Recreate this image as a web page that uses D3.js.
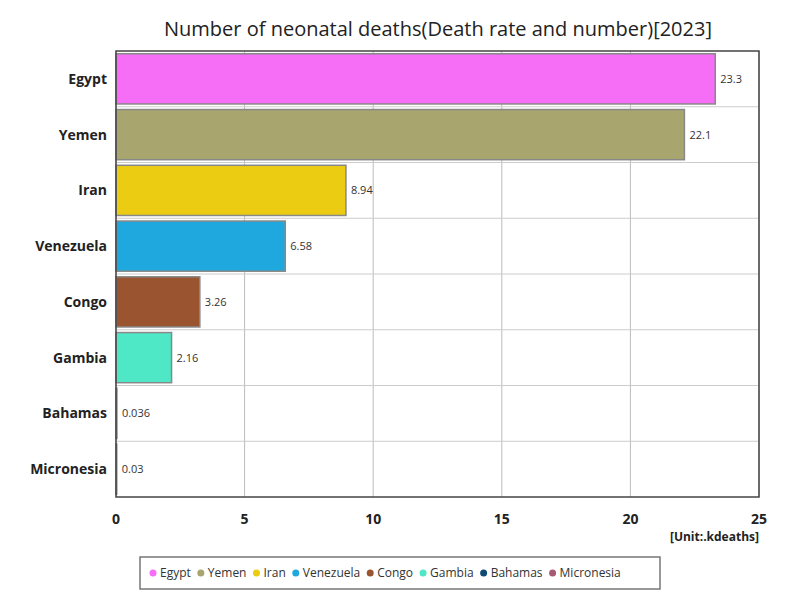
<!DOCTYPE html>
<html><head><meta charset="utf-8">
<script src="https://cdn.jsdelivr.net/npm/d3@7"></script>
<style>body{margin:0;background:#fff;font-family:"Open Sans",sans-serif}</style>
</head><body><svg id="c" width="800" height="600"></svg>
<script>
const categories=["Egypt","Yemen","Iran","Venezuela","Congo","Gambia","Bahamas","Micronesia"];
const values=[23.3,22.1,8.94,6.58,3.26,2.16,0.036,0.03];
const labels=["23.3","22.1","8.94","6.58","3.26","2.16","0.036","0.03"];
const colors=["#f66ef6","#a8a66e","#eccb13","#1ea8de","#9a5430","#4fe8c7","#0e4a72","#a85a75"];
const ticks=[0,5,10,15,20,25];
const svg=d3.select("#c");
const L=116,R=759,T=51,B=497;
const x=d3.scaleLinear().domain([0,25]).range([L,R]);
const y=d3.scaleBand().domain(categories).range([T,B]).paddingInner(0.1).paddingOuter(0.05);
svg.append("text").attr("x",438).attr("y",36).attr("text-anchor","middle").attr("font-size",20).attr("fill","#222").text("Number of neonatal deaths(Death rate and number)[2023]");
const g=svg.append("g");
ticks.forEach(t=>g.append("line").attr("x1",x(t)).attr("x2",x(t)).attr("y1",T).attr("y2",B).attr("stroke","#bbb"));
const step=(B-T)/categories.length;
for(let i=1;i<categories.length;i++)g.append("line").attr("x1",L).attr("x2",R).attr("y1",T+i*step).attr("y2",T+i*step).attr("stroke","#ccc");
g.selectAll("rect.b").data(categories).enter().append("rect").attr("x",L).attr("y",d=>y(d)).attr("height",y.bandwidth())
 .attr("width",(d,i)=>x(values[i])-L).attr("fill",(d,i)=>colors[i]).attr("stroke","#888").attr("stroke-width",1.5);
g.selectAll("text.v").data(categories).enter().append("text").attr("x",(d,i)=>x(values[i])+5).attr("y",d=>y(d)+y.bandwidth()/2+4)
 .attr("font-size",11).attr("fill","#333").text((d,i)=>labels[i]);
svg.append("rect").attr("x",L).attr("y",T).attr("width",R-L).attr("height",B-T).attr("fill","none").attr("stroke","#444").attr("stroke-width",1.5);
categories.forEach(c=>svg.append("text").attr("x",107).attr("y",y(c)+y.bandwidth()/2+5).attr("text-anchor","end").attr("font-size",14).attr("font-weight","bold").attr("fill","#222").text(c));
ticks.forEach(t=>svg.append("text").attr("x",x(t)).attr("y",524).attr("text-anchor","middle").attr("font-size",14).attr("font-weight","bold").attr("fill","#222").text(t));
svg.append("text").attr("x",759).attr("y",541).attr("text-anchor","end").attr("font-size",12).attr("font-weight","bold").attr("fill","#222").text("[Unit:.kdeaths]");
svg.append("rect").attr("x",140).attr("y",557).attr("width",520).attr("height",32).attr("fill","#fff").attr("stroke","#777").attr("stroke-width",1.5);
let lx=150;
categories.forEach((c,i)=>{
 svg.append("circle").attr("cx",lx+3).attr("cy",573).attr("r",3.5).attr("fill",colors[i]);
 const t=svg.append("text").attr("x",lx+10).attr("y",577).attr("font-size",12).attr("fill","#333").text(c);
 lx+=t.node().getComputedTextLength()+17;
});
</script></body></html>
